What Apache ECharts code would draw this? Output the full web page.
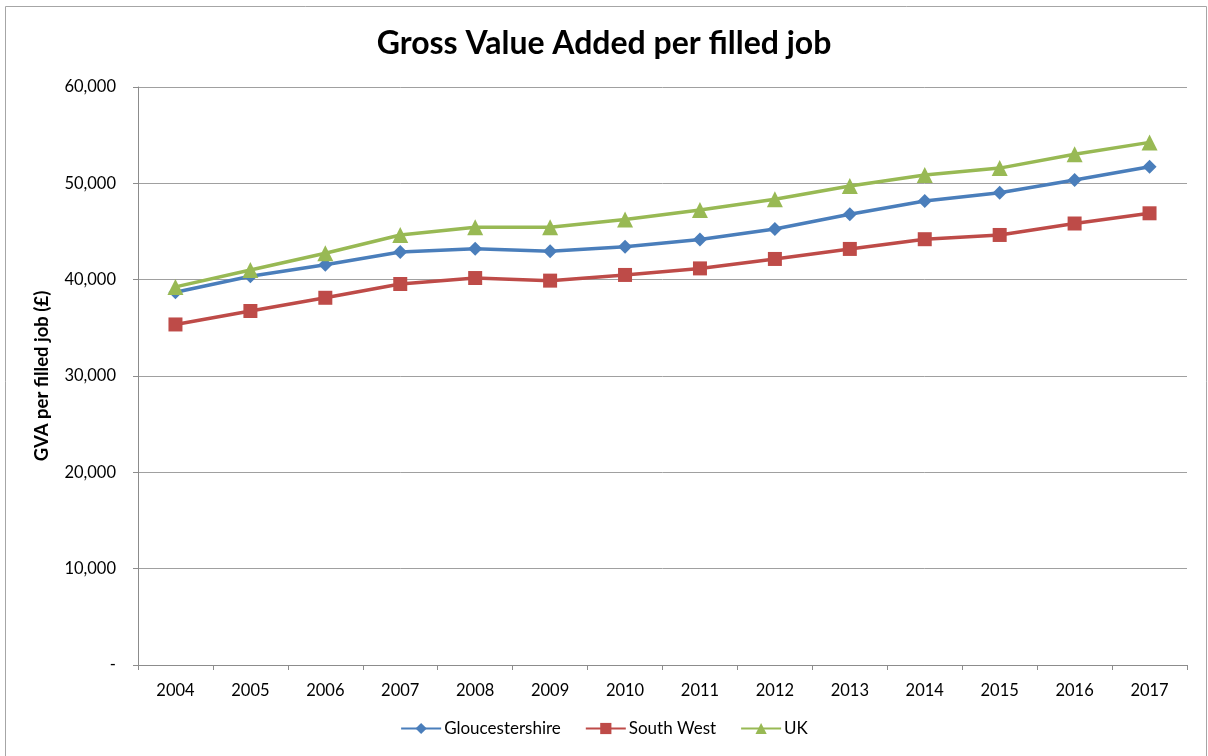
<!DOCTYPE html>
<html>
<head>
<meta charset="utf-8">
<script src="https://cdn.jsdelivr.net/npm/echarts@6/dist/echarts.min.js"></script>
<style>
  html, body { margin: 0; padding: 0; background: #fff; }
  #chart { width: 1208px; height: 756px; }
</style>
</head>
<body>
<div id="chart"></div>
<script>
// Gross Value Added per filled job (£), 2004–2017
const years = ['2004','2005','2006','2007','2008','2009','2010','2011','2012','2013','2014','2015','2016','2017'];
const gloucestershire = [38700, 40350, 41550, 42870, 43200, 42950, 43420, 44170, 45260, 46800, 48170, 49030, 50350, 51720];
const southWest = [35350, 36750, 38120, 39550, 40170, 39900, 40490, 41170, 42150, 43190, 44200, 44640, 45830, 46890];
const uk = [39250, 41000, 42740, 44640, 45450, 45450, 46250, 47230, 48340, 49720, 50870, 51580, 53010, 54250];
const yTicks = [0, 10000, 20000, 30000, 40000, 50000, 60000];

const FONT = 'Lato, "Open Sans", "DejaVu Sans", sans-serif';
const COLORS = ['#4A7EBB', '#BE4B48', '#98B954'];

const chart = echarts.init(document.getElementById('chart'), null, { renderer: 'canvas' });

function fmt(v) {
  if (v === 0) return '-';
  return v.toLocaleString('en-GB');
}

function lineSeries(name, data, symbol, size, color) {
  return {
    name: name,
    type: 'line',
    data: data,
    symbol: symbol,
    symbolSize: size,
    showSymbol: true,
    lineStyle: { width: 3.5, color: color },
    itemStyle: { color: color },
    emphasis: { disabled: true },
    animation: false
  };
}

chart.setOption({
  backgroundColor: '#ffffff',
  color: COLORS,
  title: {
    text: 'Gross Value Added per filled job',
    left: 'center',
    top: 23,
    textStyle: { fontFamily: FONT, fontSize: 32, fontWeight: 'bold', color: '#000' }
  },
  graphic: [{
    type: 'rect',
    shape: { x: 5.5, y: 6.5, width: 1201, height: 760 },
    style: { fill: 'none', stroke: '#a6a6a6', lineWidth: 1 },
    silent: true
  }],
  grid: { left: 138, right: 21, top: 87, bottom: 91 },
  legend: {
    bottom: 14,
    left: 'center',
    itemWidth: 40,
    itemHeight: 14,
    itemGap: 24,
    textStyle: { fontFamily: FONT, fontSize: 17, color: '#000', padding: [0, 0, 0, -2] },
    data: ['Gloucestershire', 'South West', 'UK']
  },
  xAxis: {
    type: 'category',
    data: years,
    boundaryGap: true,
    axisLine: { lineStyle: { color: '#8c8c8c', width: 1 } },
    axisTick: { show: true, alignWithLabel: false, length: 5, lineStyle: { color: '#8c8c8c' } },
    axisLabel: { fontFamily: FONT, fontSize: 16.5, color: '#000', margin: 17 }
  },
  yAxis: {
    type: 'value',
    min: yTicks[0],
    max: yTicks[yTicks.length - 1],
    interval: yTicks[1] - yTicks[0],
    name: 'GVA per filled job (£)',
    nameLocation: 'middle',
    nameGap: 86,
    nameRotate: 90,
    nameTextStyle: { fontFamily: FONT, fontSize: 18.5, fontWeight: 'bold', color: '#000' },
    axisLine: { show: true, lineStyle: { color: '#8c8c8c', width: 1 } },
    axisTick: { show: true, length: 5, lineStyle: { color: '#8c8c8c' } },
    axisLabel: { fontFamily: FONT, fontSize: 16.5, color: '#000', margin: 22, formatter: fmt },
    splitLine: { show: true, lineStyle: { color: '#a0a0a0', width: 1 } }
  },
  series: [
    lineSeries('Gloucestershire', gloucestershire, 'diamond', 14, COLORS[0]),
    lineSeries('South West', southWest, 'rect', 14, COLORS[1]),
    lineSeries('UK', uk, 'triangle', 16, COLORS[2])
  ]
});
</script>
</body>
</html>
